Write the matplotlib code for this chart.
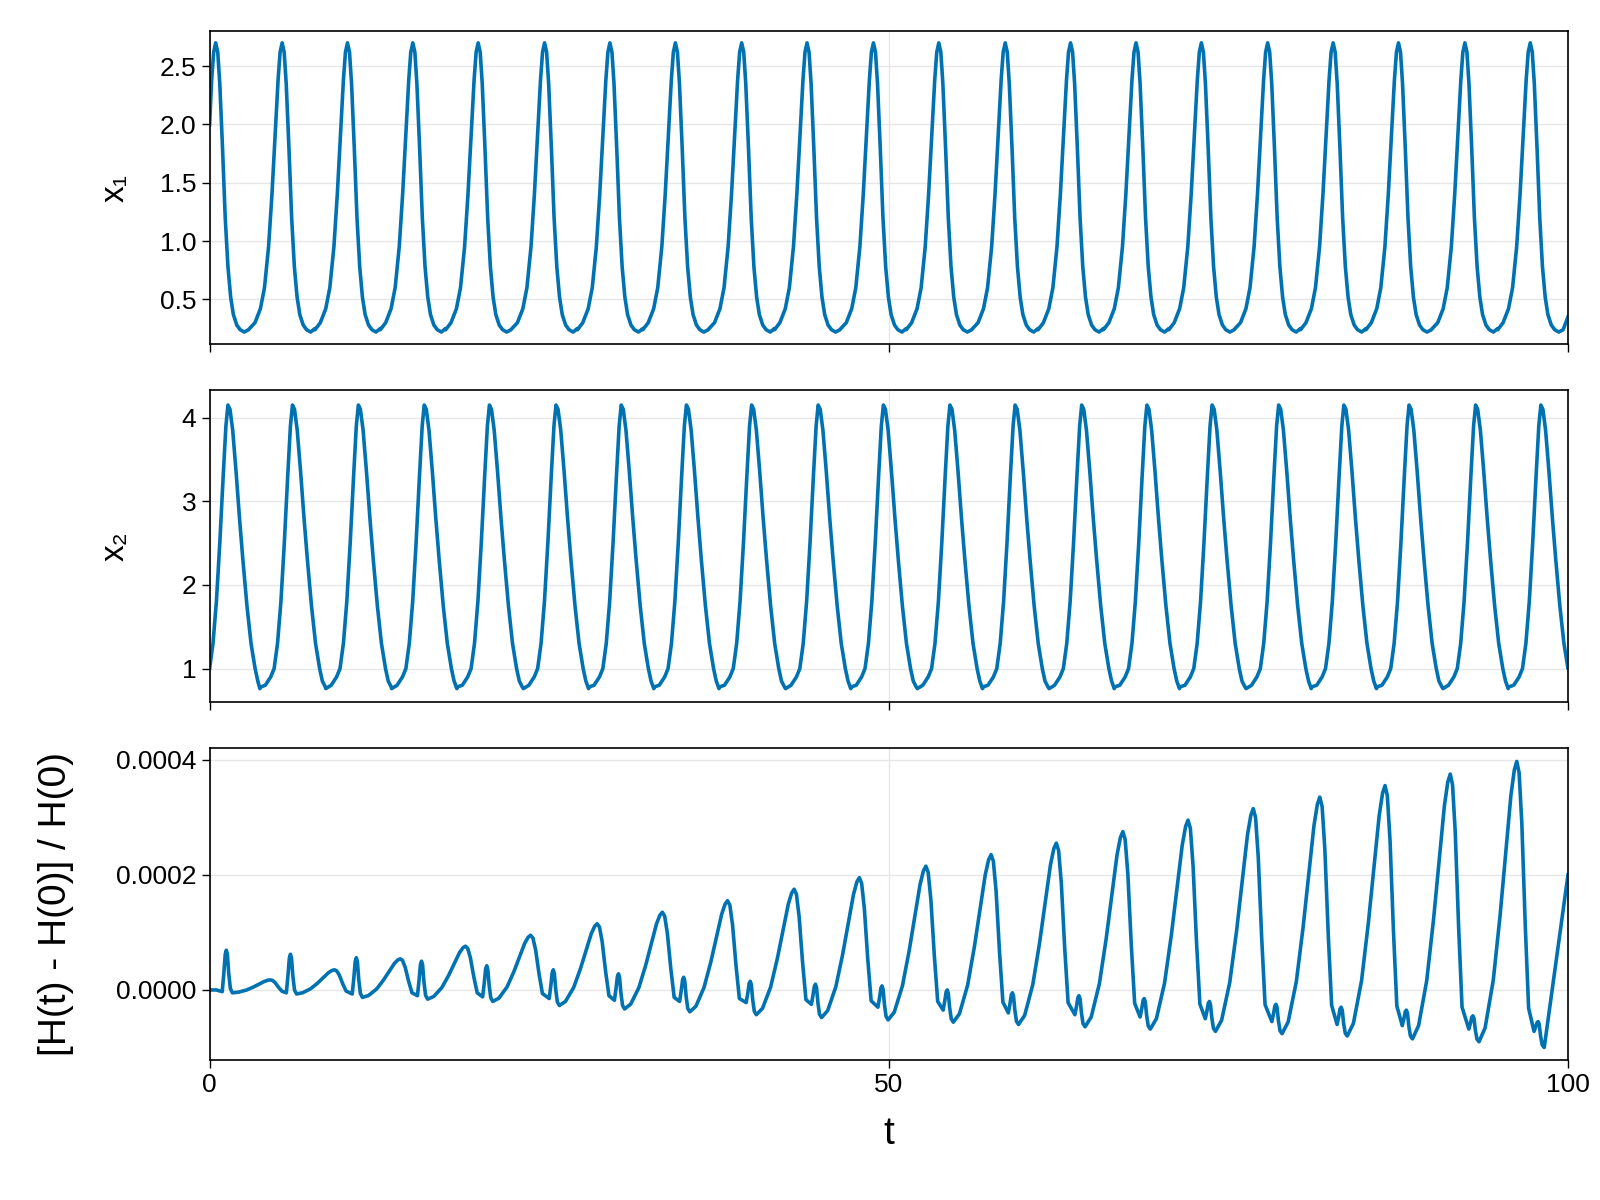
import numpy as np
import matplotlib
matplotlib.use("Agg")
import matplotlib.pyplot as plt

plt.rcParams['font.family'] = ['Liberation Sans', 'DejaVu Sans']

# peak times
x1_peaks = [0.45, 5.34, 10.15, 14.96, 19.77, 24.66, 29.47, 34.29, 39.17, 43.98, 48.87,
            53.68, 58.57, 63.38, 68.20, 73.01, 77.89, 82.71, 87.52, 92.41, 97.22]
x2_peaks = [1.35, 6.1, 10.95, 15.8, 20.6, 25.5, 30.3, 35.1, 39.9, 44.8, 49.6,
            54.5, 59.3, 64.2, 69.0, 73.8, 78.7, 83.5, 88.3, 93.2, 98.0]

# one-cycle shape around a peak (offset, value)
x1_off = [-2.4, -2.0, -1.6, -1.3, -1.0, -0.75, -0.5, -0.3, -0.15, 0.0, 0.15, 0.3, 0.5, 0.7, 0.9, 1.1, 1.3, 1.55, 1.8, 2.1, 2.42]
x1_val = [0.25, 0.30, 0.42, 0.60, 0.95, 1.40, 1.95, 2.38, 2.62, 2.70, 2.62, 2.35, 1.80, 1.20, 0.78, 0.52, 0.37, 0.28, 0.24, 0.22, 0.24]
x2_off = [-2.4, -2.0, -1.6, -1.35, -1.1, -0.85, -0.6, -0.35, -0.15, 0.0, 0.15, 0.35, 0.6, 0.85, 1.1, 1.4, 1.7, 2.0, 2.2, 2.42]
x2_val = [0.76, 0.80, 0.90, 1.00, 1.30, 1.80, 2.50, 3.30, 3.90, 4.15, 4.10, 3.85, 3.35, 2.80, 2.30, 1.75, 1.30, 1.00, 0.85, 0.78]

# relative energy error: per-cycle features
h_spike_t = [1.23, 5.95, 10.8, 15.6, 20.4, 25.3, 30.1, 34.9, 39.8, 44.6, 49.5,
             54.3, 59.1, 64.0, 68.8, 73.6, 78.5, 83.3, 88.1, 93.0, 97.8]
h_spike = [6.9e-5, 6.2e-5, 5.6e-5, 5.0e-5, 4.2e-5, 3.5e-5, 2.8e-5, 2.2e-5, 1.5e-5, 1.0e-5, 0.7e-5,
           0.0, -0.5e-5, -1.0e-5, -1.5e-5, -2.0e-5, -2.5e-5, -3.0e-5, -3.5e-5, -4.5e-5, -5.5e-5]
h_dip = [-0.3e-5, -0.5e-5, -0.7e-5, -1.0e-5, -1.2e-5, -1.5e-5, -1.8e-5, -2.0e-5, -2.2e-5, -2.5e-5, -3.0e-5,
         -3.5e-5, -4.0e-5, -4.3e-5, -4.7e-5, -5.0e-5, -5.5e-5, -6.0e-5, -6.2e-5, -6.8e-5, -7.2e-5]
h_trough = [-0.5e-5, -0.7e-5, -1.3e-5, -1.6e-5, -2.0e-5, -2.7e-5, -3.3e-5, -3.8e-5, -4.3e-5, -4.8e-5, -5.2e-5,
            -5.6e-5, -6.0e-5, -6.4e-5, -6.8e-5, -7.2e-5, -7.6e-5, -8.0e-5, -8.5e-5, -9.0e-5, -10.0e-5]
h_hump = [1.75e-5, 3.5e-5, 5.4e-5, 7.6e-5, 9.5e-5, 11.5e-5, 13.5e-5, 15.5e-5, 17.5e-5, 19.5e-5,
          21.5e-5, 23.5e-5, 25.5e-5, 27.5e-5, 29.5e-5, 31.5e-5, 33.5e-5, 35.5e-5, 37.5e-5, 39.7e-5]
h_end = 2.0e-4
# rise/fall shape between trough and hump (offset from spike, fraction of hump-trough)
rise_off = [0.9, 1.5, 2.0, 2.5, 2.8, 3.05, 3.23, 3.4, 3.6, 3.85, 4.1]
rise_frac = [0.05, 0.22, 0.45, 0.72, 0.88, 0.97, 1.0, 0.96, 0.78, 0.42, 0.12]
# spike shape (offset from spike, weight between neighbouring dip/trough and spike)
spk_off = [-0.3, -0.18, -0.08, 0.0, 0.08, 0.18, 0.3, 0.45]
spk_w = [0.0, 0.45, 0.9, 1.0, 0.9, 0.45, 0.1, 0.0]

COL = '#0072b2'


def build(peaks, off, val):
    t, y = [], []
    for p in peaks:
        for o, v in zip(off, val):
            t.append(p + o)
            y.append(v)
    t, y = np.array(t), np.array(y)
    order = np.argsort(t)
    t, y = t[order], y[order]
    m = (t >= 0) & (t <= 100)
    return t[m], y[m]


t1, y1 = build(x1_peaks, x1_off, x1_val)
t2, y2 = build(x2_peaks, x2_off, x2_val)
t1 = np.r_[0, t1, 100]; y1 = np.r_[2.0, y1, 0.35]
t2 = np.r_[0, t2, 100]; y2 = np.r_[1.0, y2, 1.1]

th, yh = [0.0, 0.5], [0.0, 0.0]
for k, s in enumerate(h_spike_t):
    for o, w in zip(spk_off, spk_w):
        base = h_dip[k] if o <= 0 else h_trough[k]
        th.append(s + o)
        yh.append(base + w * (h_spike[k] - base))
    if k < len(h_hump):
        for o, f in zip(rise_off, rise_frac):
            th.append(s + o)
            yh.append(h_trough[k] + f * (h_hump[k] - h_trough[k]))
th += [100]
yh += [h_end]
th, yh = np.array(th), np.array(yh)
m = th <= 100
th, yh = th[m], yh[m]

fig = plt.figure(figsize=(16, 12), dpi=100)
L, W = 0.131, 0.849
ax1 = fig.add_axes([L, 0.713, W, 0.261])
ax2 = fig.add_axes([L, 0.415, W, 0.260])
ax3 = fig.add_axes([L, 0.117, W, 0.260])

for ax, t, y in [(ax1, t1, y1), (ax2, t2, y2), (ax3, th, yh)]:
    ax.plot(t, y, color=COL, lw=2.6, solid_joinstyle='round')
    ax.set_xlim(0, 100)
    ax.set_xticks([0, 50, 100])
    ax.grid(True, color='#e6e6e6', lw=1)
    ax.set_axisbelow(True)
    ax.tick_params(labelsize=19, length=6, width=1)
    for sp in ax.spines.values():
        sp.set_linewidth(1.2)

ax1.set_ylim(0.114, 2.80)
ax1.set_yticks([0.5, 1.0, 1.5, 2.0, 2.5])
ax1.set_ylabel('x₁', fontsize=24)
ax1.set_xticklabels([])
ax2.set_ylim(0.6, 4.33)
ax2.set_yticks([1, 2, 3, 4])
ax2.set_ylabel('x₂', fontsize=24)
ax2.set_xticklabels([])
ax3.set_ylim(-0.000121, 0.000421)
ax3.set_yticks([0, 0.0002, 0.0004])
ax3.set_yticklabels(['0.0000', '0.0002', '0.0004'])
ax3.set_ylabel('[H(t) - H(0)] / H(0)', fontsize=28)
ax3.set_xlabel('t', fontsize=28, labelpad=14)
ax1.yaxis.set_label_coords(-0.058, 0.5)
ax2.yaxis.set_label_coords(-0.058, 0.5)
ax3.yaxis.set_label_coords(-0.10, 0.5)

fig.savefig('out.png', dpi=100)
